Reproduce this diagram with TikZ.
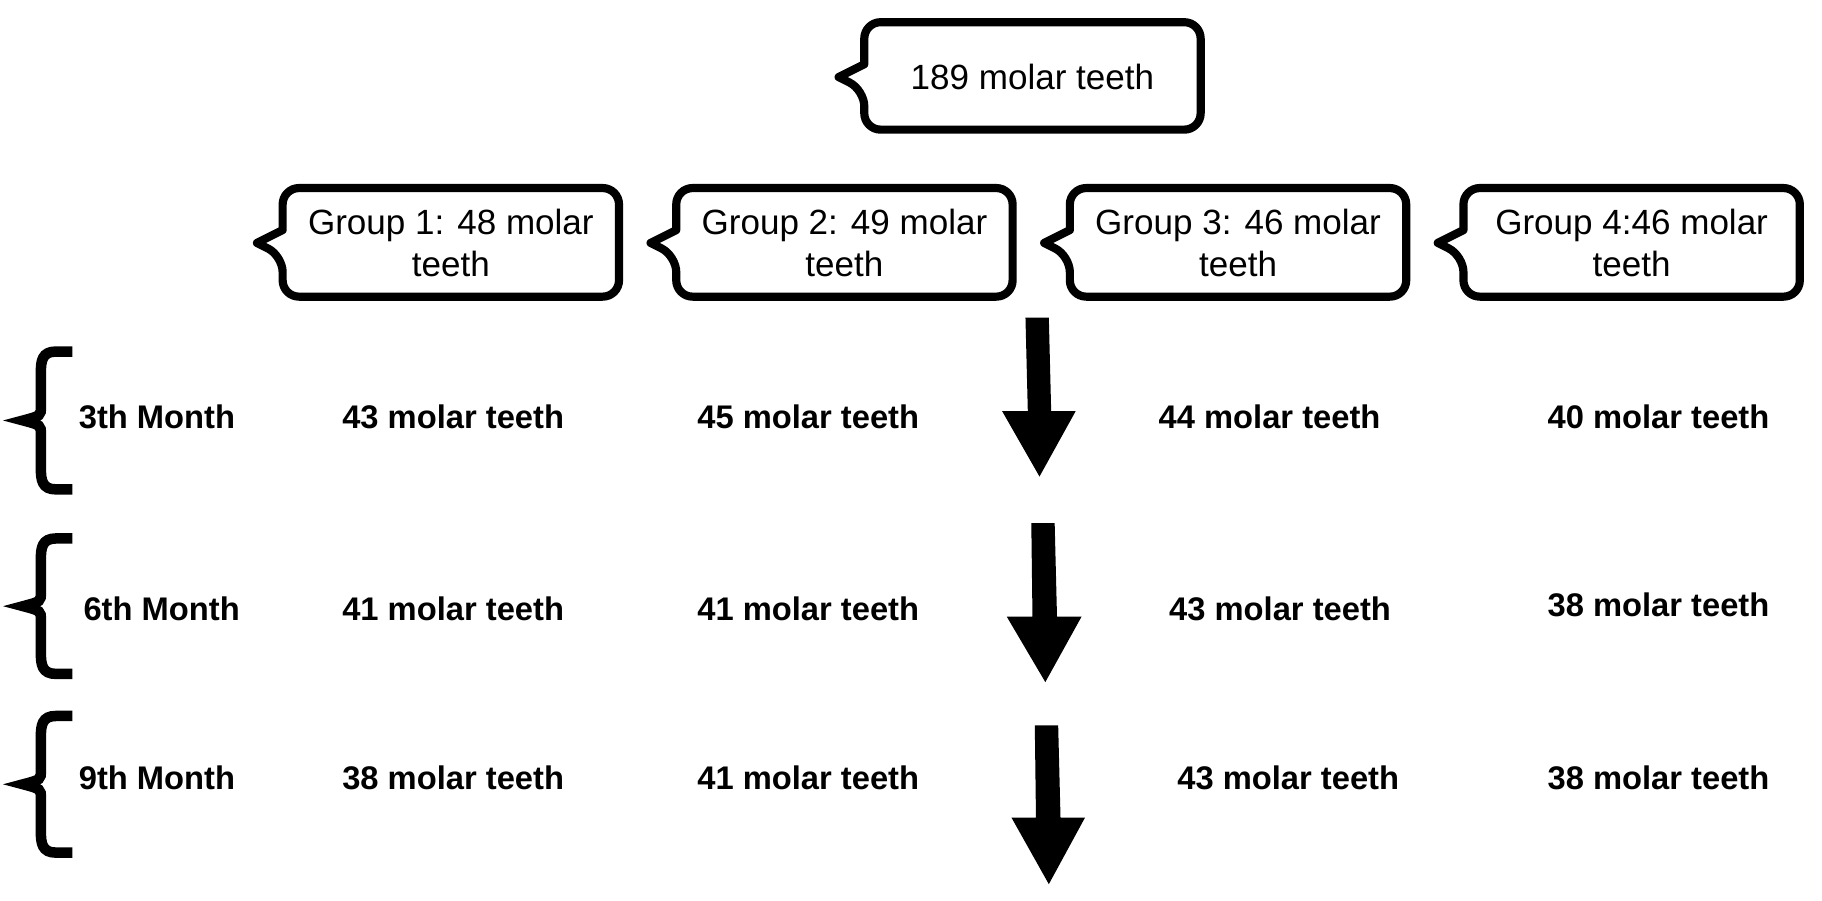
\documentclass[tikz,border=0pt]{standalone}
\usepackage{fontspec}
\setmainfont{Liberation Sans}
\begin{document}
\begin{tikzpicture}[x=1pt,y=-1pt,
  box/.style={line width=7pt,line join=round},
  btxt/.style={font=\fontsize{30}{36}\selectfont,align=center},
  val/.style={font=\fontsize{28}{32}\selectfont\bfseries},
  arr/.style={fill=black},
  brace/.style={line width=9pt}]
\useasboundingbox (0,0) rectangle (1560,771);
\newcommand{\callout}[7]{%
  \draw[box] (#2,#6-11) [rounded corners=14pt]-- (#2,#3) -- (#4,#3) -- (#4,#5) -- (#2,#5) -- (#2,#6+11) [sharp corners]-- (#2-22,#6) -- cycle;
  \node[btxt] (#1) at ({(#2+#4)/2},#6) {#7};}
\callout{top}{740}{19}{1028}{111}{66}{189 molar teeth}
\callout{g1}{242}{161}{530}{254}{208}{Group 1: 48 molar\\teeth}
\callout{g2}{579}{161}{867}{254}{208}{Group 2: 49 molar\\teeth}
\callout{g3}{916}{161}{1204}{254}{208}{Group 3: 46 molar\\teeth}
\callout{g4}{1253}{161}{1541}{254}{208}{Group 4:46 molar\\teeth}
% arrows
\fill[arr] (878,272) -- (898,272) -- (900,352) -- (921,352) -- (890,408) -- (858,352) -- (880,352) -- cycle;
\fill[arr] (883,448) -- (903,448) -- (905,528) -- (926,528) -- (895,584) -- (862,528) -- (884,528) -- cycle;
\fill[arr] (886,621) -- (906,621) -- (908,700) -- (929,700) -- (898,757) -- (866,700) -- (887,700) -- cycle;
% braces
\foreach \t/\b in {297/423,457/581,609/734}{
  \draw[brace] (62,\t+4) -- (48,\t+4) .. controls (36,\t+4) and (35,\t+12) .. (35,\t+22)
    -- (35,{(\t+\b)/2-12}) .. controls (35,{(\t+\b)/2-4}) .. (20,{(\t+\b)/2})
    .. controls (35,{(\t+\b)/2+4}) .. (35,{(\t+\b)/2+12})
    -- (35,\b-22) .. controls (35,\b-12) and (36,\b-4) .. (48,\b-4) -- (62,\b-4);}
% rows
\node[val,anchor=west] (m3) at (64,357) {3th Month};
\node[val,anchor=west] (m6) at (68,521) {6th Month};
\node[val,anchor=west] (m9) at (64,666) {9th Month};
\node[val] (a1) at (388,357) {43 molar teeth};
\node[val] (a2) at (692,357) {45 molar teeth};
\node[val] (a3) at (1087,357) {44 molar teeth};
\node[val] (a4) at (1420,357) {40 molar teeth};
\node[val] (b1) at (388,521) {41 molar teeth};
\node[val] (b2) at (692,521) {41 molar teeth};
\node[val] (b3) at (1096,521) {43 molar teeth};
\node[val] (b4) at (1420,518) {38 molar teeth};
\node[val] (c1) at (388,666) {38 molar teeth};
\node[val] (c2) at (692,666) {41 molar teeth};
\node[val] (c3) at (1103,666) {43 molar teeth};
\node[val] (c4) at (1420,666) {38 molar teeth};
\end{tikzpicture}
\end{document}
